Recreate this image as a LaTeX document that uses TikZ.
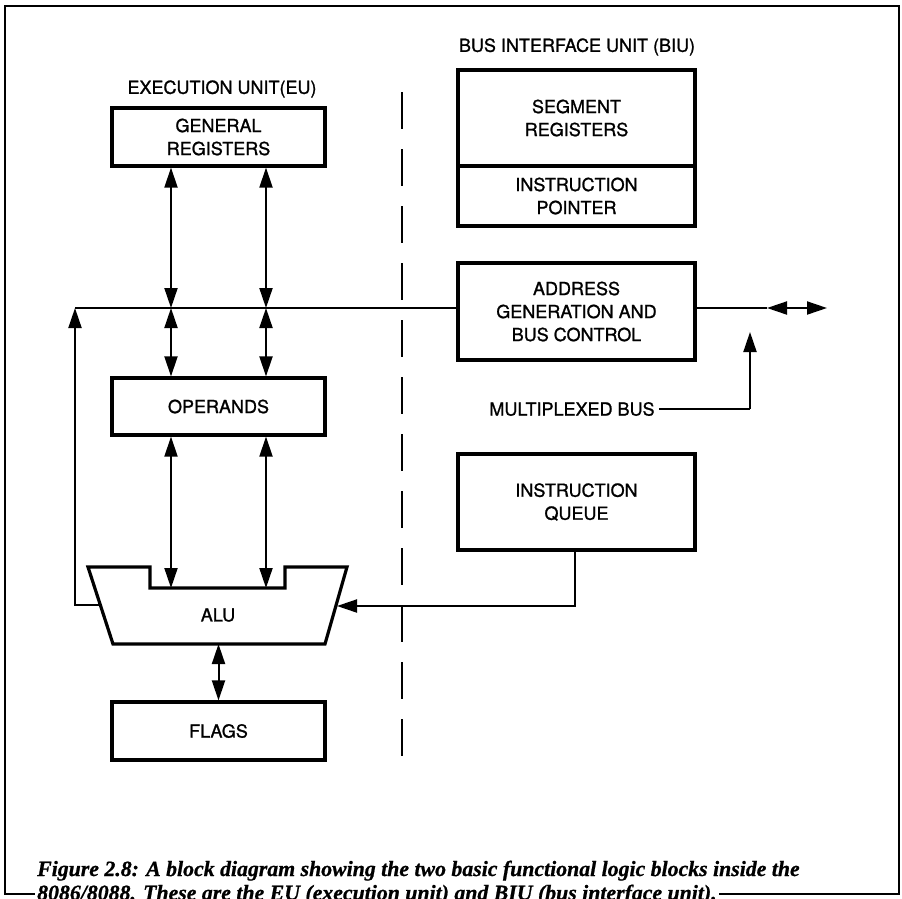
\documentclass[tikz,border=0pt]{standalone}
\usepackage{fontspec}
\setmainfont[FakeBold=1.2]{TeX Gyre Heros}
\newfontfamily\capfont[FakeBold=0.8]{Liberation Serif}
\usetikzlibrary{arrows.meta}

\tikzset{
  blockbox/.style={draw, line width=3.2pt, inner sep=0pt, align=center,
    font=\fontsize{18}{23}\selectfont},
  lbl/.style={inner sep=0pt, font=\fontsize{18}{23}\selectfont},
  wire/.style={line width=2pt},
  tip/.style={line width=2pt, -{Triangle[length=20pt,width=13pt]}},
  biarrow/.style={line width=2pt, {Triangle[length=20pt,width=13pt]}-{Triangle[length=20pt,width=13pt]}},
  captxt/.style={inner sep=2pt, anchor=base west,
    font=\capfont\bfseries\itshape\fontsize{21.8}{24}\selectfont}
}

\begin{document}
\begin{tikzpicture}[x=1pt,y=-1pt]
\useasboundingbox (0,0) rectangle (902,898);
\clip (0,0) rectangle (902,898);

% outer frame
\draw[line width=1.4pt] (5,6) rectangle (899,894);

% unit titles
\node[lbl] (eu) at (222,89) {EXECUTION UNIT(EU)};
\node[lbl] (biu) at (577,47) {BUS INTERFACE UNIT (BIU)};

% separation between the two units
\draw[line width=2pt, dash pattern=on 37pt off 20pt] (402,92) -- (402,760);

% execution unit blocks
\node[blockbox, minimum width=213pt, minimum height=58pt] (gr) at (218.5,137) {GENERAL\\REGISTERS};
\node[blockbox, minimum width=213pt, minimum height=57pt] (ops) at (218.5,406.5) {OPERANDS};
\node[blockbox, minimum width=213pt, minimum height=58pt] (flags) at (218.5,731) {FLAGS};

% ALU outline
\draw[line width=3.2pt, line join=miter]
  (88,567) -- (150,567) -- (150,588) -- (285,588) -- (285,567) -- (347,567)
  -- (325,644) -- (113,644) -- cycle;
\node[lbl] (alu) at (218,615) {ALU};
\coordinate (n1) at (171,588);
\coordinate (n2) at (266,588);
\coordinate (aluL) at (100.5,605);
\coordinate (aluR) at (337,606);
\coordinate (aluB) at (218.5,644);

% bus interface unit blocks
\node[blockbox, minimum width=237pt, minimum height=96pt] (seg) at (576.5,118) {SEGMENT\\REGISTERS};
\node[blockbox, minimum width=237pt, minimum height=60pt] (ip) at (576.5,196) {INSTRUCTION\\POINTER};
\node[blockbox, minimum width=237pt, minimum height=97pt] (addr) at (576.5,311.5) {ADDRESS\\GENERATION AND\\BUS CONTROL};
\node[blockbox, minimum width=237pt, minimum height=96pt] (iq) at (576.5,502) {INSTRUCTION\\QUEUE};
\node[lbl, inner sep=4pt] (mux) at (572,409) {MULTIPLEXED BUS};

% internal bus
\coordinate (busL) at (75,308);
\coordinate (c1) at (171,308);
\coordinate (c2) at (266,308);
\draw[wire] (busL) -- (busL -| addr.west);

% register / operand / ALU paths
\draw[biarrow] (gr.south -| c1) -- (c1);
\draw[biarrow] (gr.south -| c2) -- (c2);
\draw[biarrow] (c1) -- (ops.north -| c1);
\draw[biarrow] (c2) -- (ops.north -| c2);
\draw[biarrow] (ops.south -| n1) -- (n1);
\draw[biarrow] (ops.south -| n2) -- (n2);
\draw[biarrow] (aluB) -- (flags.north);

% ALU result back onto the bus
\draw[tip] (aluL) -| (busL);

% instruction queue feeding the ALU
\coordinate (iqx) at (575,550);
\draw[tip] (iqx) |- (aluR);

% external bus
\coordinate (busR1) at (767,308);
\coordinate (busR2) at (827,308);
\draw[wire] (busR1 -| addr.east) -- (busR1);
\draw[biarrow] (busR1) -- (busR2);
\coordinate (muxc) at (750,409);
\coordinate (muxtip) at (750,332);
\draw[wire] (mux.east) -- (muxc);
\draw[tip] (muxc) -- (muxtip);

% caption, second line set over the frame
\node[captxt] (cap1) at (35,876) {Figure 2.8: A block diagram showing the two basic functional logic blocks inside the};
\node[captxt, fill=white] (cap2) at (35,900) {8086/8088. These are the EU (execution unit) and BIU (bus interface unit).};
\end{tikzpicture}
\end{document}
